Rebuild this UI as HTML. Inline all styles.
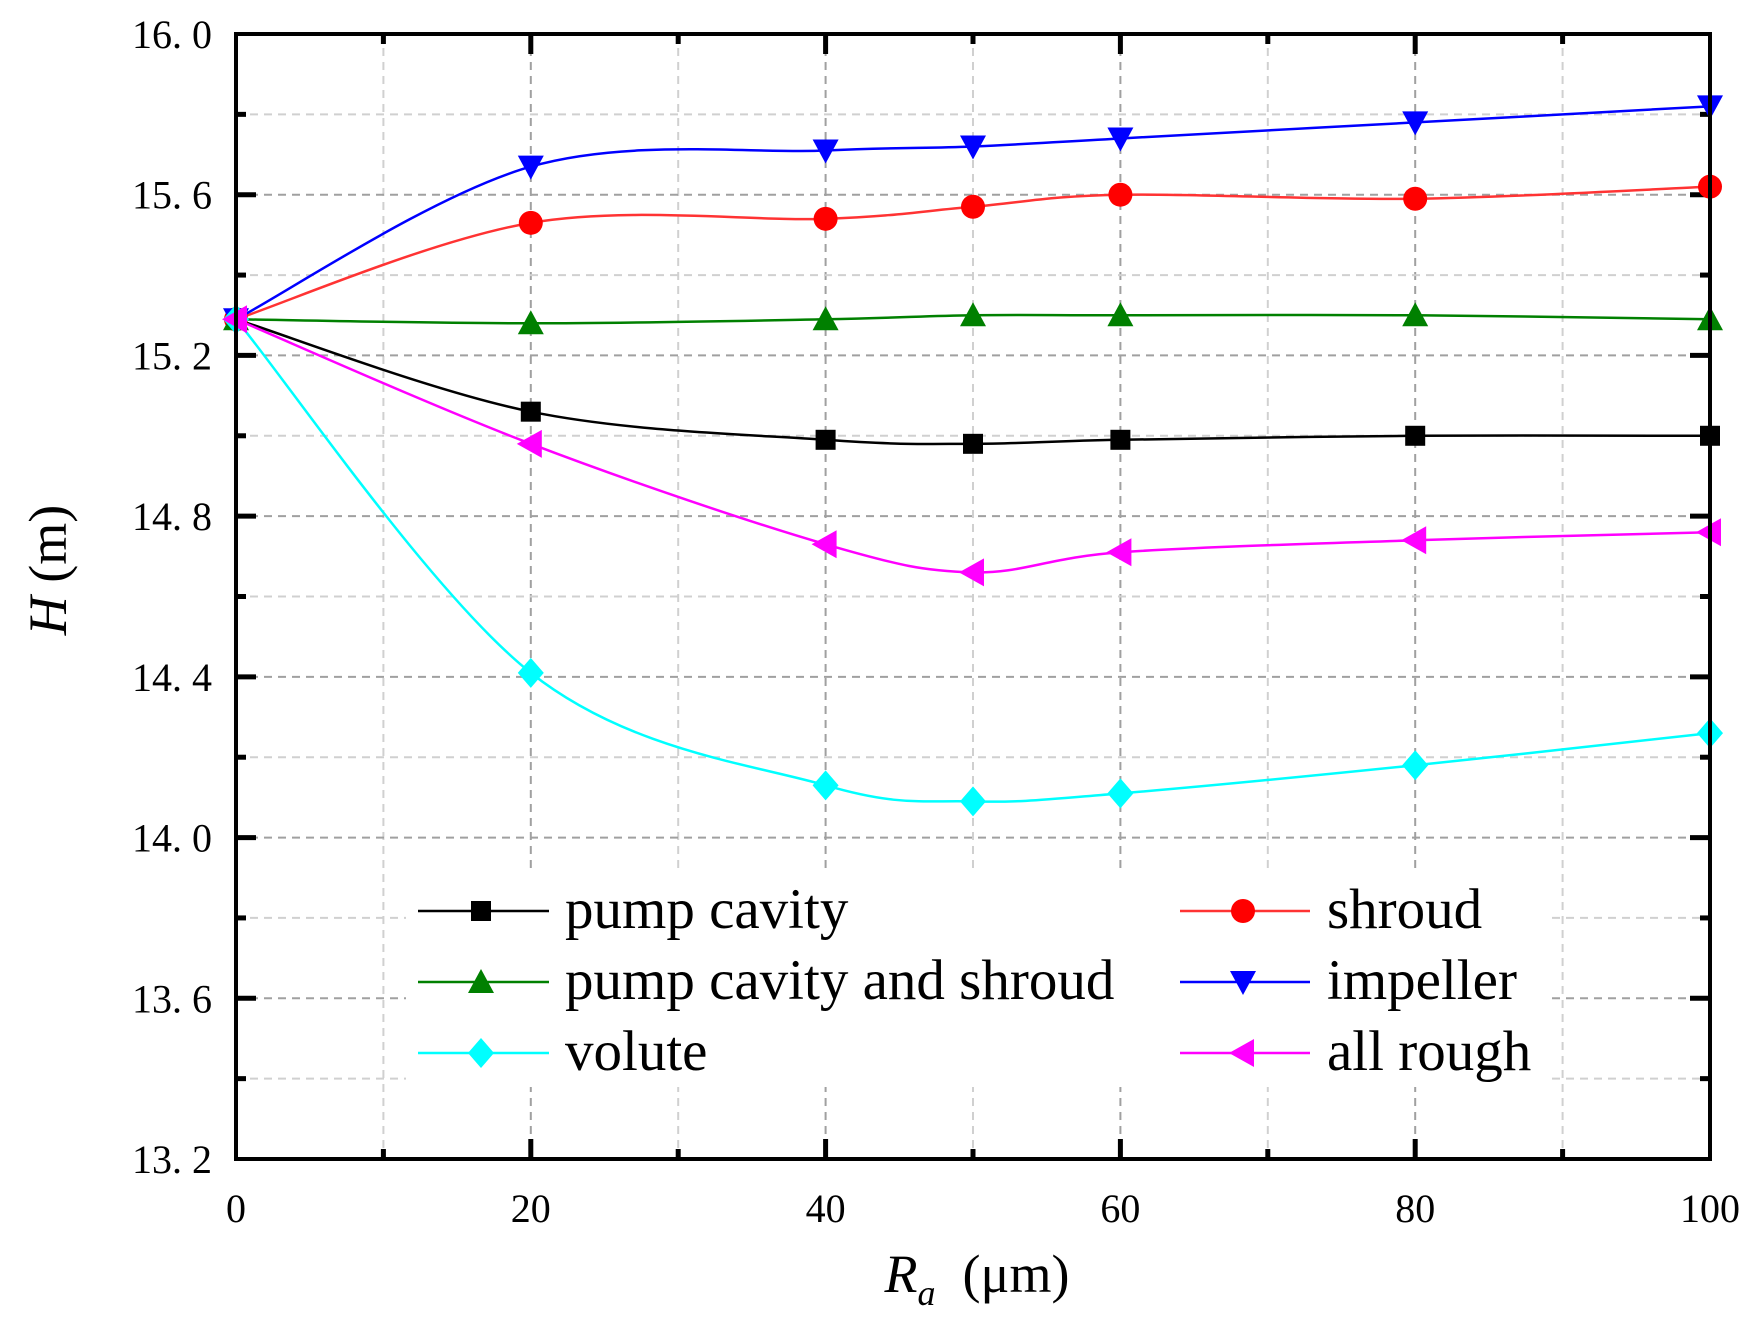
<!DOCTYPE html>
<html><head><meta charset="utf-8"><style>
html,body{margin:0;padding:0;background:#fff;}
svg{display:block;font-family:"Liberation Serif","Noto Serif CJK SC",serif;}
</style></head><body>
<svg id="s" width="1761" height="1320" xmlns="http://www.w3.org/2000/svg"></svg>
<script>
const L=236,R=1710,T=34,B=1159;
const X=v=>L+(v)*(R-L)/100, Y=v=>T+(16-v)*(B-T)/2.8;
let h='';
for(let i=1;i<10;i++){const x=X(i*10);const maj=i%2==0;
 h+=`<line x1="${x}" y1="${T}" x2="${x}" y2="${B}" stroke="${maj?'#a0a0a0':'#d0d0d0'}" stroke-width="2" stroke-dasharray="8,6"/>`;}
for(let i=1;i<14;i++){const v=13.2+i*0.2;const y=Y(v);const maj=i%2==0;
 h+=`<line x1="${L}" y1="${y}" x2="${R}" y2="${y}" stroke="${maj?'#a0a0a0':'#d0d0d0'}" stroke-width="2" stroke-dasharray="8,6"/>`;}
for(let i=1;i<10;i++){const x=X(i*10);const len=i%2==0?20:10;
 h+=`<line x1="${x}" y1="${B}" x2="${x}" y2="${B-len}" stroke="#000" stroke-width="5"/><line x1="${x}" y1="${T}" x2="${x}" y2="${T+len}" stroke="#000" stroke-width="5"/>`;}
for(let i=1;i<14;i++){const y=Y(13.2+i*0.2);const len=i%2==0?20:10;
 h+=`<line x1="${L}" y1="${y}" x2="${L+len}" y2="${y}" stroke="#000" stroke-width="5"/><line x1="${R}" y1="${y}" x2="${R-len}" y2="${y}" stroke="#000" stroke-width="5"/>`;}
for(let i=0;i<=7;i++){const v=13.2+i*0.4;const y=Y(v);
 h+=`<text x="212" y="${y+14}" font-size="40" text-anchor="end">${v.toFixed(1).replace('.','. ')}</text>`;}
[0,20,40,60,80,100].forEach(v=>{h+=`<text x="${X(v)}" y="1222" font-size="40" text-anchor="middle">${v}</text>`;});
h+=`<text x="977" y="1292" font-size="54" text-anchor="middle"><tspan font-style="italic">R</tspan><tspan font-style="italic" font-size="36" dy="13">a</tspan><tspan dy="-13" xml:space="preserve">  (μm)</tspan></text>`;
h+=`<text transform="translate(66,570) rotate(-90)" font-size="54" text-anchor="middle"><tspan font-style="italic">H</tspan> (m)</text>`;
const xs=[0,20,40,50,60,80,100];
const S=[
 ['#000','sq',[15.29,15.06,14.99,14.98,14.99,15.0,15.0]],
 ['#ff3333','ci',[15.29,15.53,15.54,15.57,15.60,15.59,15.62]],
 ['#008000','up',[15.29,15.28,15.29,15.30,15.30,15.30,15.29]],
 ['#0000ff','dn',[15.29,15.67,15.71,15.72,15.74,15.78,15.82]],
 ['#00ffff','di',[15.29,14.41,14.13,14.09,14.11,14.18,14.26]],
 ['#ff00ff','lt',[15.29,14.98,14.73,14.66,14.71,14.74,14.76]],
];
const mcol={'#ff3333':'#ff0000'};
function marker(t,c,x,y){const f=mcol[c]||c;
 if(t=='sq')return `<rect x="${x-10}" y="${y-10}" width="20" height="20" fill="${f}"/>`;
 if(t=='ci')return `<circle cx="${x}" cy="${y}" r="12" fill="${f}"/>`;
 if(t=='up')return `<polygon points="${x},${y-13} ${x-13},${y+11} ${x+13},${y+11}" fill="${f}"/>`;
 if(t=='dn')return `<polygon points="${x},${y+13} ${x-13},${y-11} ${x+13},${y-11}" fill="${f}"/>`;
 if(t=='di')return `<polygon points="${x},${y-15} ${x+13},${y} ${x},${y+15} ${x-13},${y}" fill="${f}"/>`;
 if(t=='lt')return `<polygon points="${x-14},${y} ${x+11},${y-14} ${x+11},${y+14}" fill="${f}"/>`;}
function path(pts){let d=`M${pts[0][0]},${pts[0][1]}`;
 for(let i=0;i<pts.length-1;i++){const p0=pts[Math.max(i-1,0)],p1=pts[i],p2=pts[i+1],p3=pts[Math.min(i+2,pts.length-1)];
  const t=0.5/3;
  const c1=[p1[0]+(p2[0]-p0[0])*t,p1[1]+(p2[1]-p0[1])*t],c2=[p2[0]-(p3[0]-p1[0])*t,p2[1]-(p3[1]-p1[1])*t];
  d+=` C${c1[0]},${c1[1]} ${c2[0]},${c2[1]} ${p2[0]},${p2[1]}`;}
 return d;}
let m='';
S.forEach(([c,t,ys])=>{const pts=xs.map((x,i)=>[X(x),Y(ys[i])]);
 h+=`<path d="${path(pts)}" fill="none" stroke="${c}" stroke-width="2.5"/>`;
 pts.forEach(p=>m+=marker(t,c,p[0],p[1]));});
h+=m;
h+=`<rect x="${L}" y="${T}" width="${R-L}" height="${B-T}" fill="none" stroke="#000" stroke-width="4"/>`;
h+=`<rect x="406" y="872" width="1146" height="215" fill="#fff"/>`;
const leg=[[0,0,'pump cavity'],[1,1,'shroud'],[2,0,'pump cavity and shroud'],[3,1,'impeller'],[4,0,'volute'],[5,1,'all rough']];
const rows=[911,982,1053];
leg.forEach(([si,col,txt],k)=>{const [c,t]=S[si];const y=rows[Math.floor(k/2)];
 const x1=col?1180:418,x2=col?1310:549,mx=col?1243:481,tx=col?1327:565;
 h+=`<line x1="${x1}" y1="${y}" x2="${x2}" y2="${y}" stroke="${c}" stroke-width="2.5"/>`+marker(t,c,mx,y);
 h+=`<text x="${tx}" y="${y+17}" font-size="57">${txt}</text>`;});
document.getElementById('s').innerHTML=h;
</script>
</body></html>
